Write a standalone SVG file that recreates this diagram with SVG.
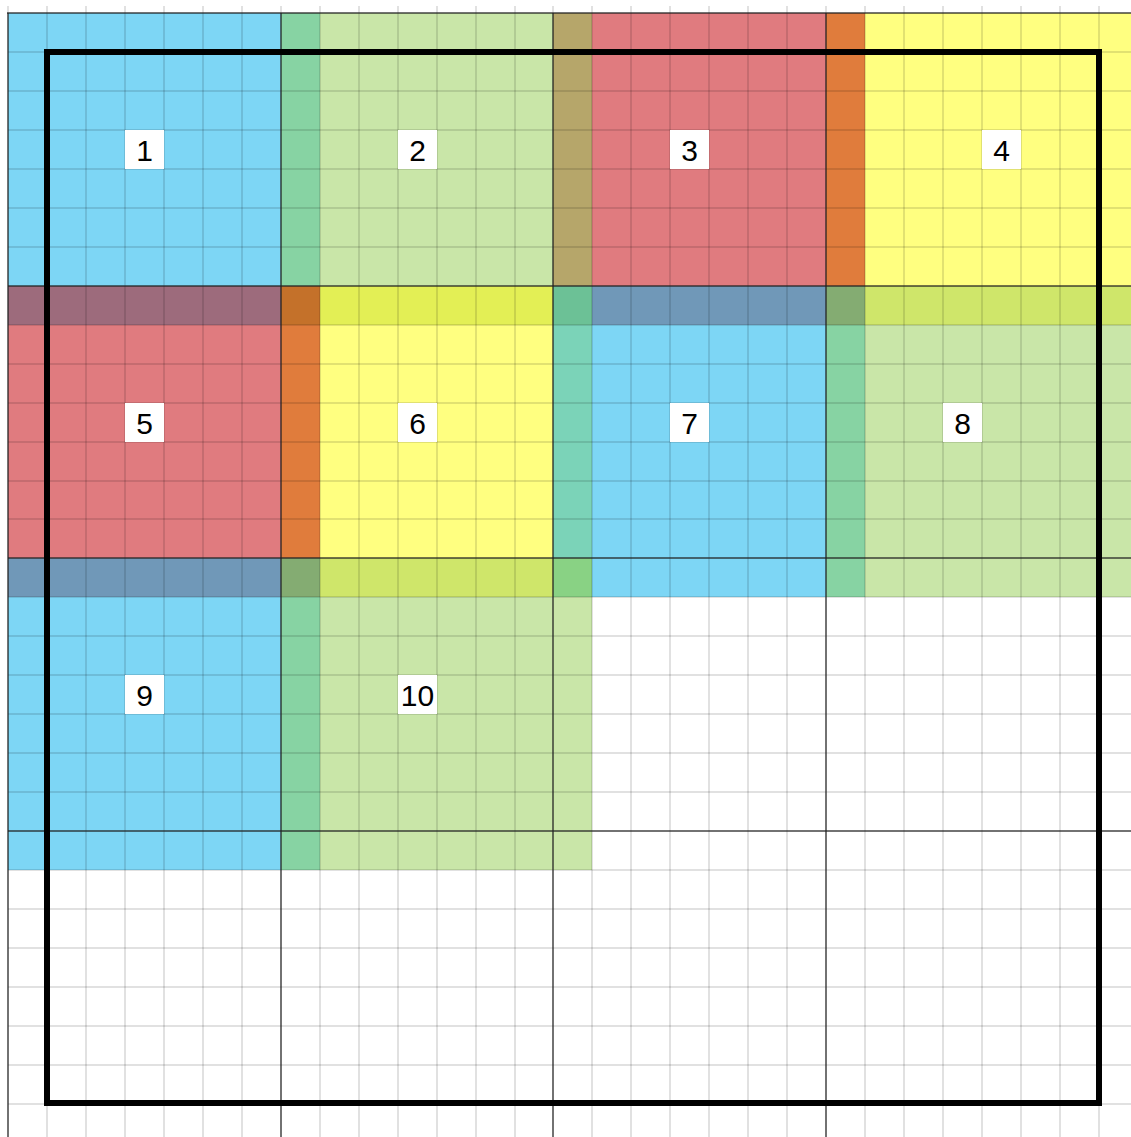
<svg xmlns="http://www.w3.org/2000/svg" width="1131" height="1137" viewBox="0 0 1131 1137">
<style>
.fine{stroke:#000;stroke-opacity:0.16;stroke-width:1.5;fill:none}
.tick{stroke:#000;stroke-opacity:0.16;stroke-width:1.5}
.major{stroke:#222;stroke-opacity:0.85;stroke-width:1.5;fill:none}
.lbl{fill:#fff}
.txt{font-family:"Liberation Sans",Arial,sans-serif;font-size:30px;fill:#000;text-anchor:middle;dominant-baseline:central}
.blue{fill:#7DD6F5}.green{fill:#C9E6A8}.red{fill:#E07B7F}.yellow{fill:#FFFF80}
.teal{fill:#87D3A3}.olive{fill:#B6A66A}.orange{fill:#E07C3C}
</style>
<rect width="1131" height="1137" fill="#fff"/>
<g id="fills">
<rect class="blue" x="8" y="13" width="273" height="273"/>
<rect class="teal" x="281" y="13" width="39" height="273"/>
<rect class="green" x="320" y="13" width="233" height="273"/>
<rect class="olive" x="553" y="13" width="39" height="273"/>
<rect class="red" x="592" y="13" width="234" height="273"/>
<rect class="orange" x="826" y="13" width="39" height="273"/>
<rect class="yellow" x="865" y="13" width="266" height="273"/>
<rect fill="#9D6B7C" x="8" y="286" width="273" height="39"/>
<rect fill="#C4712A" x="281" y="286" width="39" height="39"/>
<rect fill="#E3EF55" x="320" y="286" width="233" height="39"/>
<rect fill="#6CC196" x="553" y="286" width="39" height="39"/>
<rect fill="#7098B8" x="592" y="286" width="234" height="39"/>
<rect fill="#84AC72" x="826" y="286" width="39" height="39"/>
<rect fill="#CFE66A" x="865" y="286" width="266" height="39"/>
<rect class="red" x="8" y="325" width="273" height="233"/>
<rect class="orange" x="281" y="325" width="39" height="233"/>
<rect class="yellow" x="320" y="325" width="233" height="233"/>
<rect fill="#7BD3B8" x="553" y="325" width="39" height="233"/>
<rect class="blue" x="592" y="325" width="234" height="233"/>
<rect class="teal" x="826" y="325" width="39" height="233"/>
<rect class="green" x="865" y="325" width="266" height="233"/>
<rect fill="#7098B8" x="8" y="558" width="273" height="39"/>
<rect fill="#84AC72" x="281" y="558" width="39" height="39"/>
<rect fill="#CFE66A" x="320" y="558" width="233" height="39"/>
<rect fill="#89D284" x="553" y="558" width="39" height="39"/>
<rect class="blue" x="592" y="558" width="234" height="39"/>
<rect class="teal" x="826" y="558" width="39" height="39"/>
<rect class="green" x="865" y="558" width="266" height="39"/>
<rect class="blue" x="8" y="597" width="273" height="273"/>
<rect class="teal" x="281" y="597" width="39" height="273"/>
<rect class="green" x="320" y="597" width="272" height="273"/>
</g>
<g id="grid">
<g class="tick">
<line x1="8" y1="6" x2="8" y2="13"/><line x1="47" y1="6" x2="47" y2="13"/><line x1="86" y1="6" x2="86" y2="13"/><line x1="125" y1="6" x2="125" y2="13"/><line x1="164" y1="6" x2="164" y2="13"/><line x1="203" y1="6" x2="203" y2="13"/><line x1="242" y1="6" x2="242" y2="13"/><line x1="281" y1="6" x2="281" y2="13"/><line x1="320" y1="6" x2="320" y2="13"/><line x1="359" y1="6" x2="359" y2="13"/><line x1="398" y1="6" x2="398" y2="13"/><line x1="437" y1="6" x2="437" y2="13"/><line x1="476" y1="6" x2="476" y2="13"/><line x1="515" y1="6" x2="515" y2="13"/><line x1="553" y1="6" x2="553" y2="13"/><line x1="592" y1="6" x2="592" y2="13"/><line x1="631" y1="6" x2="631" y2="13"/><line x1="670" y1="6" x2="670" y2="13"/><line x1="709" y1="6" x2="709" y2="13"/><line x1="748" y1="6" x2="748" y2="13"/><line x1="787" y1="6" x2="787" y2="13"/><line x1="826" y1="6" x2="826" y2="13"/><line x1="865" y1="6" x2="865" y2="13"/><line x1="904" y1="6" x2="904" y2="13"/><line x1="943" y1="6" x2="943" y2="13"/><line x1="982" y1="6" x2="982" y2="13"/><line x1="1021" y1="6" x2="1021" y2="13"/><line x1="1060" y1="6" x2="1060" y2="13"/><line x1="1099" y1="6" x2="1099" y2="13"/>
</g>
<g class="fine">
<line x1="47" y1="13" x2="47" y2="1137"/><line x1="86" y1="13" x2="86" y2="1137"/><line x1="125" y1="13" x2="125" y2="1137"/><line x1="164" y1="13" x2="164" y2="1137"/><line x1="203" y1="13" x2="203" y2="1137"/><line x1="242" y1="13" x2="242" y2="1137"/><line x1="320" y1="13" x2="320" y2="1137"/><line x1="359" y1="13" x2="359" y2="1137"/><line x1="398" y1="13" x2="398" y2="1137"/><line x1="437" y1="13" x2="437" y2="1137"/><line x1="476" y1="13" x2="476" y2="1137"/><line x1="515" y1="13" x2="515" y2="1137"/><line x1="592" y1="13" x2="592" y2="1137"/><line x1="631" y1="13" x2="631" y2="1137"/><line x1="670" y1="13" x2="670" y2="1137"/><line x1="709" y1="13" x2="709" y2="1137"/><line x1="748" y1="13" x2="748" y2="1137"/><line x1="787" y1="13" x2="787" y2="1137"/><line x1="865" y1="13" x2="865" y2="1137"/><line x1="904" y1="13" x2="904" y2="1137"/><line x1="943" y1="13" x2="943" y2="1137"/><line x1="982" y1="13" x2="982" y2="1137"/><line x1="1021" y1="13" x2="1021" y2="1137"/><line x1="1060" y1="13" x2="1060" y2="1137"/><line x1="1099" y1="13" x2="1099" y2="1137"/>
<line x1="8" y1="52" x2="1131" y2="52"/><line x1="8" y1="91" x2="1131" y2="91"/><line x1="8" y1="130" x2="1131" y2="130"/><line x1="8" y1="169" x2="1131" y2="169"/><line x1="8" y1="208" x2="1131" y2="208"/><line x1="8" y1="247" x2="1131" y2="247"/><line x1="8" y1="325" x2="1131" y2="325"/><line x1="8" y1="364" x2="1131" y2="364"/><line x1="8" y1="403" x2="1131" y2="403"/><line x1="8" y1="442" x2="1131" y2="442"/><line x1="8" y1="481" x2="1131" y2="481"/><line x1="8" y1="519" x2="1131" y2="519"/><line x1="8" y1="597" x2="1131" y2="597"/><line x1="8" y1="636" x2="1131" y2="636"/><line x1="8" y1="675" x2="1131" y2="675"/><line x1="8" y1="714" x2="1131" y2="714"/><line x1="8" y1="753" x2="1131" y2="753"/><line x1="8" y1="792" x2="1131" y2="792"/><line x1="8" y1="870" x2="1131" y2="870"/><line x1="8" y1="909" x2="1131" y2="909"/><line x1="8" y1="948" x2="1131" y2="948"/><line x1="8" y1="987" x2="1131" y2="987"/><line x1="8" y1="1026" x2="1131" y2="1026"/><line x1="8" y1="1065" x2="1131" y2="1065"/><line x1="8" y1="1104" x2="1131" y2="1104"/>
</g>
<g class="major">
<line x1="8" y1="13" x2="8" y2="1137"/><line x1="281" y1="13" x2="281" y2="1137"/><line x1="553" y1="13" x2="553" y2="1137"/><line x1="826" y1="13" x2="826" y2="1137"/>
<line x1="7" y1="13" x2="1131" y2="13"/><line x1="8" y1="286" x2="1131" y2="286"/><line x1="8" y1="558" x2="1131" y2="558"/><line x1="8" y1="831" x2="1131" y2="831"/>
</g>
</g>
<g id="node1"><rect class="lbl" x="125" y="130" width="39" height="39"/><text class="txt" x="144.5" y="150.5">1</text></g>
<g id="node2"><rect class="lbl" x="398" y="130" width="39" height="39"/><text class="txt" x="417.5" y="150.5">2</text></g>
<g id="node3"><rect class="lbl" x="670" y="130" width="39" height="39"/><text class="txt" x="689.5" y="150.5">3</text></g>
<g id="node4"><rect class="lbl" x="982" y="130" width="39" height="39"/><text class="txt" x="1001.5" y="150.5">4</text></g>
<g id="node5"><rect class="lbl" x="125" y="403" width="39" height="39"/><text class="txt" x="144.5" y="423.5">5</text></g>
<g id="node6"><rect class="lbl" x="398" y="403" width="39" height="39"/><text class="txt" x="417.5" y="423.5">6</text></g>
<g id="node7"><rect class="lbl" x="670" y="403" width="39" height="39"/><text class="txt" x="689.5" y="423.5">7</text></g>
<g id="node8"><rect class="lbl" x="943" y="403" width="39" height="39"/><text class="txt" x="962.5" y="423.5">8</text></g>
<g id="node9"><rect class="lbl" x="125" y="675" width="39" height="39"/><text class="txt" x="144.5" y="695.5">9</text></g>
<g id="node10"><rect class="lbl" x="398" y="675" width="39" height="39"/><text class="txt" x="417.5" y="695.5">10</text></g>
<g id="connectors"></g>
<rect id="frame" x="47" y="52" width="1052" height="1051" fill="none" stroke="#000" stroke-width="6"/>
</svg>
